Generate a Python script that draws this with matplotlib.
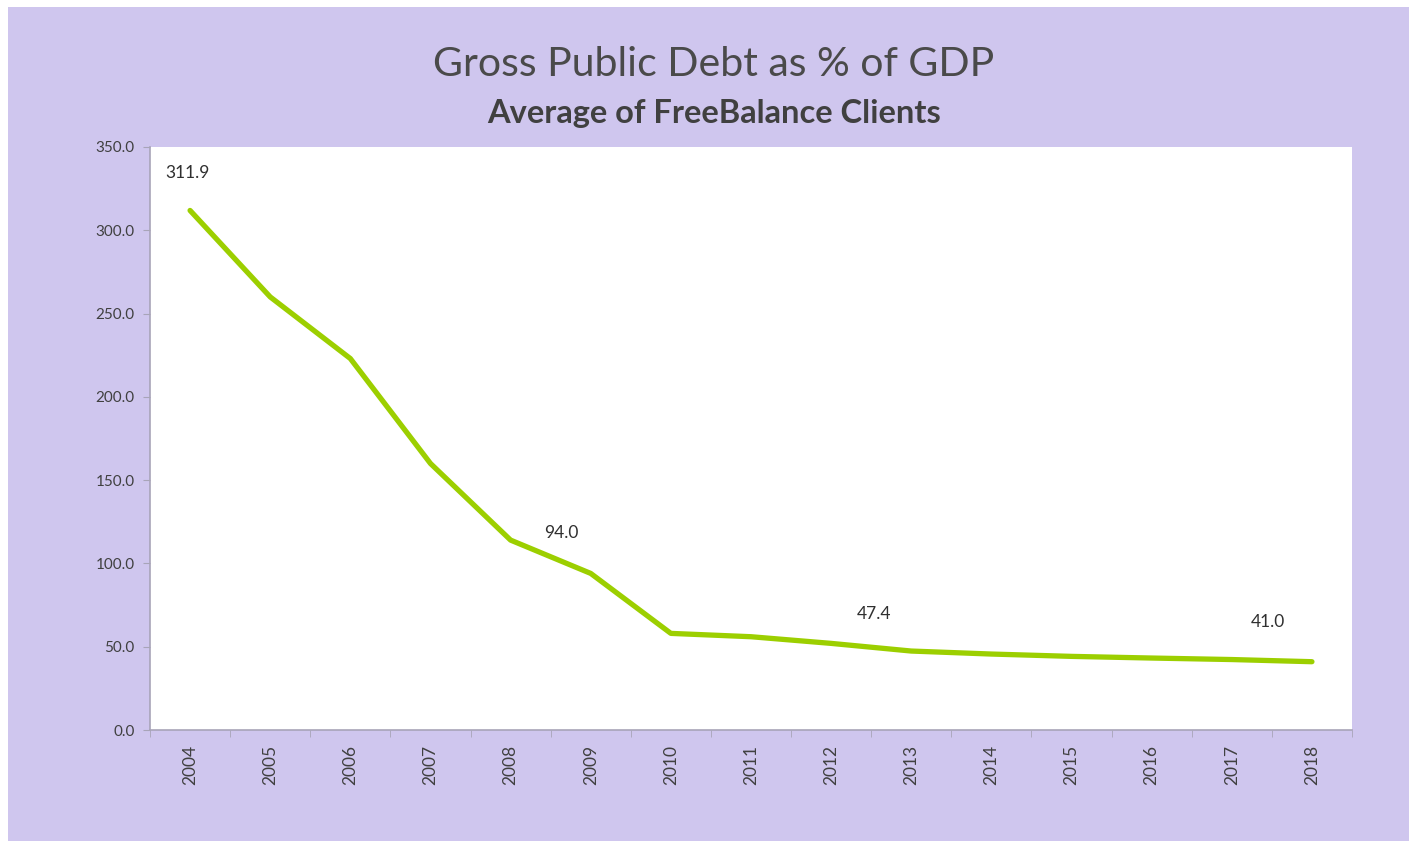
import matplotlib.pyplot as plt
from matplotlib.patches import Rectangle

years = ['2004', '2005', '2006', '2007', '2008', '2009', '2010', '2011',
         '2012', '2013', '2014', '2015', '2016', '2017', '2018']
debt = [311.9, 260.0, 223.0, 160.0, 114.0, 94.0, 58.0, 56.0,
        52.0, 47.4, 45.6, 44.2, 43.2, 42.3, 41.0]
labelled = {0: (-2, 21), 5: (-21, 23), 9: (-27, 21), 14: (-32, 23)}

bg = '#cfc6ee'
txt = '#404040'
plt.rcParams['font.family'] = ['Lato', 'DejaVu Sans']

fig = plt.figure(figsize=(14.14, 8.43), dpi=100)
fig.patch.set_facecolor('white')
fig.patches.append(Rectangle((8 / 1414, 2 / 843), 1401 / 1414, 834 / 843,
                             transform=fig.transFigure, facecolor=bg,
                             edgecolor='none', zorder=-10))

ax = fig.add_axes([150 / 1414, 1 - 730 / 843, 1202 / 1414, 583 / 843])
ax.set_facecolor('white')

x = list(range(len(years)))
ax.plot(x, debt, color='#9ccf00', lw=3.8, solid_joinstyle='round',
        solid_capstyle='round')

for i, (dx, dy) in labelled.items():
    ax.annotate(f'{debt[i]:.1f}', (x[i], debt[i]), xytext=(dx, dy),
                textcoords='offset points', ha='center', va='bottom',
                fontsize=12.5, color='#303030')

ax.set_xlim(-0.5, len(years) - 0.5)
ax.set_ylim(0, 350)
ax.set_yticks(range(0, 351, 50))
ax.set_yticklabels([f'{v:.1f}' for v in range(0, 351, 50)])
ax.set_xticks(x)
ax.set_xticklabels(years, rotation=90)
ax.set_xticks([i - 0.5 for i in range(len(years) + 1)], minor=True)
ax.tick_params(axis='x', which='major', length=0, pad=11, labelsize=12.5,
               labelcolor=txt)
ax.tick_params(axis='x', which='minor', length=5, color='#a8a4b8')
ax.tick_params(axis='y', length=5, color='#a8a4b8', labelsize=11,
               labelcolor=txt, pad=6)

for side in ['top', 'right']:
    ax.spines[side].set_visible(False)
for side in ['left', 'bottom']:
    ax.spines[side].set_color('#a8a4b8')
    ax.spines[side].set_linewidth(1.2)

fig.text(0.505, 1 - 64 / 843, 'Gross Public Debt as % of GDP', ha='center',
         va='center', fontsize=29.5, color='#4a4a4a')
fig.text(0.505, 1 - 113 / 843, 'Average of FreeBalance Clients', ha='center',
         va='center', fontsize=23.5, fontweight='bold', color='#404040')

fig.savefig('out.png', dpi=100, facecolor=fig.get_facecolor())
